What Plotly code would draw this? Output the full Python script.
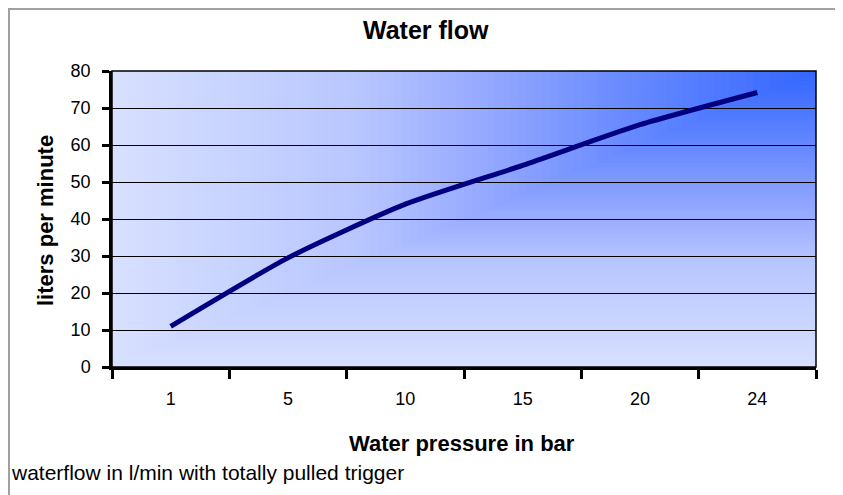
import plotly.graph_objects as go

# ---- data ----
pressure_labels = ["1", "5", "10", "15", "20", "24"]
flow_lpm = [11, 29.5, 44, 54.5, 65.5, 74.2]
y_ticks = [0, 10, 20, 30, 40, 50, 60, 70, 80]

title_text = "Water flow"
x_title = "Water pressure in bar"
y_title = "liters per minute"
footer_text = "waterflow in l/min with totally pulled trigger"

# gradient colour stops (corner gradient, dark at top-right)
grad_stops = [(0.0, (216, 224, 255)), (0.35, (184, 198, 255)), (0.5, (155, 173, 255)),
              (0.75, (100, 135, 255)), (1.0, (51, 102, 255))]

# page has an 8px body margin; figure sized to fill the rest of the window
OFF = 8
W, H = 843 - OFF, 495 - OFF
L, T = 112 - OFF, 71 - OFF
pw, ph = 704, 296
R, B = W - L - pw, H - T - ph


def sx(screen_x):
    return (screen_x - OFF - L) / pw


def sy(screen_y):
    return (T + ph - (screen_y - OFF)) / ph


def grad_color(t):
    for (t0, c0), (t1, c1) in zip(grad_stops[:-1], grad_stops[1:]):
        if t <= t1:
            f = (t - t0) / (t1 - t0) if t1 > t0 else 0
            c = [round(a + (b - a) * f) for a, b in zip(c0, c1)]
            return f"rgb({c[0]},{c[1]},{c[2]})"
    c = grad_stops[-1][1]
    return f"rgb({c[0]},{c[1]},{c[2]})"


fig = go.Figure()
fig.add_trace(go.Scatter(
    x=pressure_labels, y=flow_lpm, mode="lines",
    line=dict(color="#000080", width=5, shape="spline", smoothing=0.6),
    hoverinfo="x+y", showlegend=False,
))

shapes = []
# outer frame of the chart
shapes.append(dict(type="rect", xref="paper", yref="paper",
                   x0=sx(9), x1=sx(838), y0=sy(510), y1=sy(9),
                   fillcolor="white", line=dict(color="#a0a0a0", width=2), layer="below"))
# corner gradient in plot area
n = 90
for i in range(n):
    t = i / n
    shapes.append(dict(type="rect", xref="x domain", yref="y domain",
                       x0=t, x1=1, y0=t, y1=1,
                       fillcolor=grad_color(t + 0.5 / n), line=dict(width=0), layer="below"))
# plot area border
shapes.append(dict(type="rect", xref="x domain", yref="y domain",
                   x0=0, x1=1, y0=0, y1=1, line=dict(color="black", width=1.5), layer="above"))

font_family = "Liberation Sans, Arial, sans-serif"
annotations = [
    dict(text=f"<b>{title_text}</b>", x=sx(426), y=sy(30), xref="paper", yref="paper",
         xanchor="center", yanchor="middle", showarrow=False, font=dict(size=25, color="black")),
    dict(text=f"<b>{x_title}</b>", x=sx(462), y=sy(443), xref="paper", yref="paper",
         xanchor="center", yanchor="middle", showarrow=False, font=dict(size=22, color="black")),
    dict(text=f"<b>{y_title}</b>", x=sx(45), y=sy(221), xref="paper", yref="paper",
         xanchor="center", yanchor="middle", showarrow=False, textangle=-90,
         font=dict(size=22, color="black")),
    dict(text=footer_text, x=sx(9), y=sy(472), xref="paper", yref="paper",
         xanchor="left", yanchor="middle", showarrow=False, font=dict(size=21, color="black")),
]

fig.update_layout(
    width=W, height=H,
    margin=dict(l=L, r=R, t=T, b=B, pad=0),
    paper_bgcolor="white", plot_bgcolor="rgba(0,0,0,0)",
    font=dict(family=font_family, size=18, color="black"),
    shapes=shapes, annotations=annotations,
    showlegend=False,
)
fig.update_xaxes(
    type="category", categoryorder="array", categoryarray=pressure_labels,
    range=[-0.5, len(pressure_labels) - 0.5],
    tickson="boundaries", ticks="outside", ticklen=9, tickwidth=2.5, tickcolor="black",
    showline=True, linecolor="black", linewidth=2.5, showgrid=False,
    tickfont=dict(size=18), ticklabelstandoff=14, fixedrange=True,
)
fig.update_yaxes(
    range=[0, 80], tickvals=y_ticks, ticks="outside", ticklen=7, tickwidth=2.5,
    tickcolor="black", showline=True, linecolor="black", linewidth=2.5,
    showgrid=True, gridcolor="black", gridwidth=1.2, zeroline=False,
    tickfont=dict(size=18), ticklabelstandoff=8, fixedrange=True,
)

fig.write_html("out.html")
